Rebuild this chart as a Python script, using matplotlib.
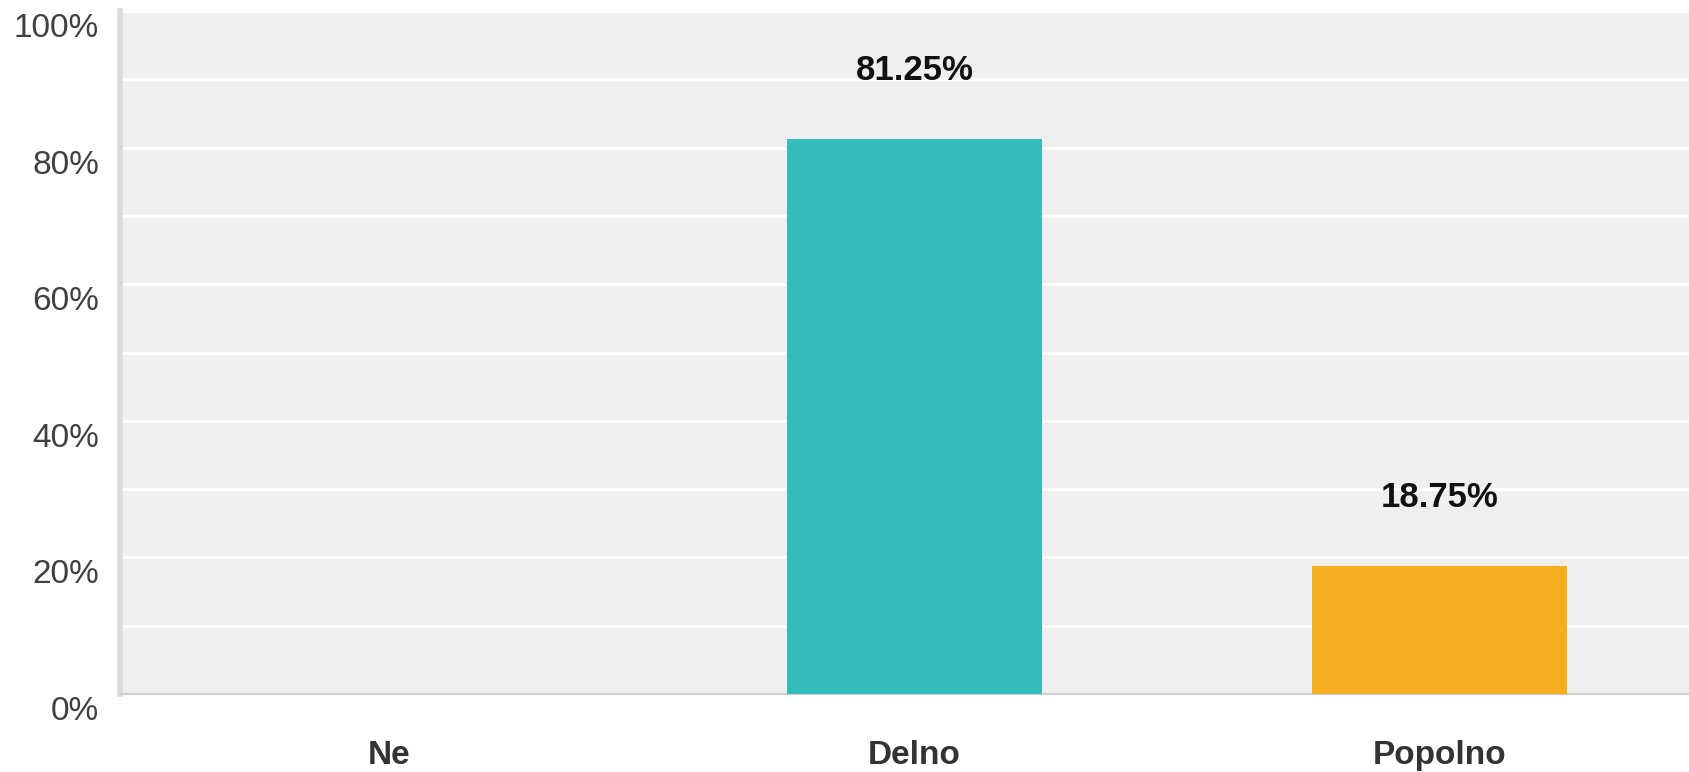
import numpy as np
import matplotlib.pyplot as plt
import matplotlib.transforms as mtransforms

# data
categories = ["Ne", "Delno", "Popolno"]
values = [0.0, 81.25, 18.75]
value_labels = ["", "81.25%", "18.75%"]
bar_colors = ["#32bcbe", "#32bcbe", "#f5ae1f"]
ytick_vals = [0, 20, 40, 60, 80, 100]
ytick_labels = ["0%", "20%", "40%", "60%", "80%", "100%"]

plt.rcParams['font.family'] = ['Liberation Sans', 'DejaVu Sans']

fig = plt.figure(figsize=(16.9, 7.72), dpi=100)
ax = fig.add_axes([120/1690, 1 - 694/772, 1 - 120/1690, (694 - 11)/772])
ax.set_facecolor("#efefef")

x = np.arange(len(categories))
ax.bar(x, values, width=0.484, color=bar_colors, zorder=3)

for xi, v, lab in zip(x, values, value_labels):
    if lab:
        ax.text(xi, v + 10, lab, ha='center', va='center', fontsize=25,
                fontweight='bold', color='#111111', zorder=4)

ax.set_xlim(-0.513, 2.477)
ax.set_ylim(0, 100)

ax.set_yticks(ytick_vals)
ax.set_yticklabels(ytick_labels, fontsize=24, color='#404040')
ax.set_yticks(np.arange(10, 100, 10), minor=True)
ax.grid(axis='y', which='both', color='white', linewidth=2.3, zorder=1)

ax.set_xticks(x)
ax.set_xticklabels(categories, fontsize=24, fontweight='bold', color='#333333')

ax.tick_params(axis='both', which='both', length=0)
ax.tick_params(axis='y', pad=15)
ax.tick_params(axis='x', pad=33)

# y labels sit a little below their gridlines
offset = mtransforms.ScaledTranslation(0, -14/100, fig.dpi_scale_trans)
for lab in ax.get_yticklabels():
    lab.set_transform(lab.get_transform() + offset)

for s in ['top', 'right']:
    ax.spines[s].set_visible(False)
ax.spines['left'].set_color('#dadada')
ax.spines['left'].set_linewidth(4)
ax.spines['bottom'].set_color('#cfcfcf')
ax.spines['bottom'].set_linewidth(1.5)

fig.savefig("out.png", dpi=100)
